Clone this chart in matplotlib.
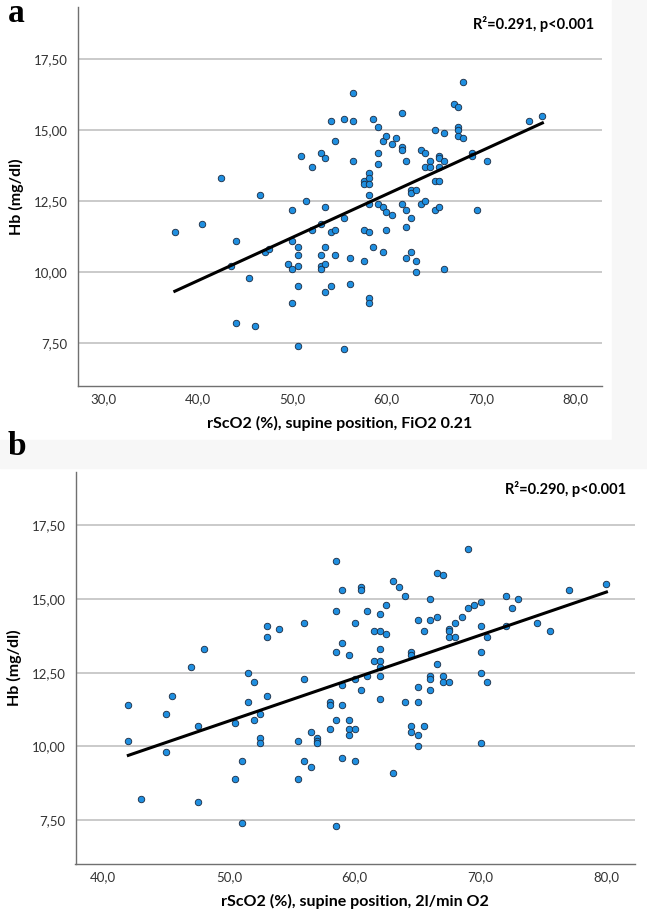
import numpy as np
import matplotlib.pyplot as plt
from matplotlib.patches import Rectangle
from matplotlib.ticker import FuncFormatter

# Panel a: rScO2 at FiO2 0.21 vs Hb
rsco2_a = [37.6, 40.5, 42.5, 44.1, 43.5, 44.1, 45.5, 46.1, 46.6, 47.1, 47.6, 49.6,
           50.0, 50.0, 50.0, 50.6, 50.6, 50.6, 50.6, 50.0, 50.6, 51.0, 51.5, 52.1,
           52.1, 53.1, 53.1, 53.1, 53.1, 53.1, 53.5, 53.5, 53.5, 53.5, 53.5, 54.1,
           54.1, 54.1, 54.5, 54.5, 54.5, 55.5, 55.5, 55.5, 56.1, 56.1, 56.5, 56.5,
           56.5, 57.6, 57.6, 57.6, 57.6, 58.1, 58.1, 58.1, 58.1, 58.1, 58.1, 58.1,
           58.1, 58.6, 58.6, 59.1, 59.1, 59.1, 59.1, 59.6, 59.6, 59.6, 60.0, 60.0,
           60.0, 60.6, 60.6, 61.0, 61.6, 61.6, 61.6, 61.6, 62.1, 62.1, 62.1, 62.1,
           62.6, 62.6, 62.6, 62.6, 63.1, 63.1, 63.1, 63.6, 63.6, 64.1, 64.1, 64.1,
           64.6, 64.6, 65.1, 65.1, 65.1, 65.6, 65.6, 65.6, 65.6, 65.6, 66.1, 66.1,
           66.1, 67.1, 67.6, 67.6, 67.6, 67.6, 68.1, 68.1, 69.0, 69.0, 69.6, 70.6,
           75.1, 76.5]
hb_a = [11.4, 11.7, 13.3, 11.1, 10.2, 8.2, 9.8, 8.1, 12.7, 10.7, 10.8, 10.3,
        12.2, 11.1, 10.1, 10.9, 10.6, 10.2, 9.5, 8.9, 7.4, 14.1, 12.5, 13.7,
        11.5, 14.2, 11.7, 10.6, 10.2, 10.1, 14.0, 12.3, 10.9, 10.3, 9.3, 15.3,
        11.4, 9.5, 14.6, 11.5, 10.6, 15.4, 11.9, 7.3, 10.5, 9.6, 16.3, 15.3,
        13.9, 13.2, 13.1, 11.5, 10.4, 13.5, 13.3, 13.1, 12.7, 12.4, 11.4, 9.1,
        8.9, 15.4, 10.9, 15.1, 14.2, 13.8, 12.4, 14.6, 12.3, 10.7, 14.8, 12.1,
        11.5, 14.5, 12.0, 14.7, 15.6, 14.4, 14.3, 12.4, 13.9, 12.2, 11.6, 10.5,
        12.9, 12.8, 11.9, 10.7, 12.9, 10.4, 10.0, 14.3, 12.4, 14.2, 13.7, 12.5,
        13.9, 13.7, 15.0, 13.2, 12.2, 14.1, 14.0, 13.7, 13.2, 12.3, 14.9, 13.9,
        10.1, 15.9, 15.8, 15.1, 15.0, 14.8, 16.7, 14.7, 14.2, 14.1, 12.2, 13.9,
        15.3, 15.5]

# Panel b: rScO2 at 2 l/min O2 vs Hb
rsco2_b = [42.0, 42.0, 43.0, 45.0, 45.0, 45.5, 47.0, 47.5, 47.5, 48.0, 50.5, 50.5,
           51.0, 51.0, 51.5, 51.5, 52.0, 52.0, 52.5, 52.5, 52.5, 53.0, 53.0, 53.0,
           54.0, 55.5, 55.5, 56.0, 56.0, 56.0, 56.5, 56.5, 57.0, 57.0, 57.0, 58.0,
           58.0, 58.0, 58.5, 58.5, 58.5, 58.5, 58.5, 59.0, 59.0, 59.0, 59.0, 59.0,
           59.5, 59.5, 59.5, 59.5, 60.0, 60.0, 60.0, 60.0, 60.5, 60.5, 60.5, 61.0,
           61.0, 61.5, 61.5, 62.0, 62.0, 62.0, 62.0, 62.0, 62.0, 62.0, 62.5, 62.5,
           63.0, 63.0, 63.5, 64.0, 64.0, 64.5, 64.5, 64.5, 64.5, 65.0, 65.0, 65.0,
           65.0, 65.0, 65.5, 65.5, 66.0, 66.0, 66.0, 66.0, 66.0, 66.5, 66.5, 66.5,
           67.0, 67.0, 67.0, 67.5, 67.5, 67.5, 67.5, 68.0, 68.0, 68.5, 69.0, 69.0,
           69.5, 70.0, 70.0, 70.0, 70.0, 70.0, 70.5, 70.5, 72.0, 72.0, 72.5, 73.0,
           74.5, 75.5, 77.0, 80.0]
hb_b = [11.4, 10.2, 8.2, 11.1, 9.8, 11.7, 12.7, 10.7, 8.1, 13.3, 10.8, 8.9,
        9.5, 7.4, 12.5, 11.5, 12.2, 10.9, 11.1, 10.3, 10.1, 14.1, 13.7, 11.7,
        14.0, 10.2, 8.9, 14.2, 12.3, 9.5, 10.5, 9.3, 10.3, 10.2, 10.1, 11.5,
        11.4, 10.6, 16.3, 14.6, 13.2, 10.9, 7.3, 15.3, 13.5, 12.1, 11.4, 9.6,
        13.1, 10.9, 10.6, 10.4, 14.2, 12.3, 10.6, 9.5, 15.4, 15.3, 11.9, 14.6,
        12.4, 13.9, 12.9, 14.5, 13.9, 13.3, 12.9, 12.7, 12.4, 11.6, 14.8, 13.8,
        15.6, 9.1, 15.4, 15.1, 11.5, 13.2, 13.1, 10.7, 10.5, 14.3, 12.0, 11.5,
        10.4, 10.0, 13.9, 10.7, 15.0, 14.3, 12.4, 12.3, 11.9, 15.9, 14.4, 12.8,
        15.8, 12.4, 12.2, 14.0, 13.9, 13.7, 12.2, 14.2, 13.7, 14.4, 16.7, 14.7,
        14.8, 14.9, 14.1, 13.2, 12.5, 10.1, 13.7, 12.2, 15.1, 14.1, 14.7, 15.0,
        14.2, 13.9, 15.3, 15.5]

hb_ticks = [7.5, 10.0, 12.5, 15.0, 17.5]
xticks_a = [30, 40, 50, 60, 70, 80]
xticks_b = [40, 50, 60, 70, 80]

plt.rcParams['font.family'] = ['Lato', 'DejaVu Sans']

W, H = 647, 913
fig = plt.figure(figsize=(W / 100, H / 100), dpi=100)

# faint grey margins of the pasted panels
fig.patches.append(Rectangle((612 / W, 1 - 440 / H), 35 / W, 440 / H,
                             transform=fig.transFigure, color='#f7f7f7', zorder=0))
fig.patches.append(Rectangle((0, 1 - 468 / H), 1, 28 / H,
                             transform=fig.transFigure, color='#f7f7f7', zorder=0))

ax_a = fig.add_axes([77.5 / W, 1 - 386 / H, 524.8 / W, 379 / H])
ax_b = fig.add_axes([75.5 / W, 1 - 864.3 / H, 559 / W, 392.6 / H])


def comma(v, nd):
    return f'{v:.{nd}f}'.replace('.', ',')


def draw(ax, x, y, xticks, xlim, xlabel, stat):
    ax.set_facecolor('none')
    ax.scatter(x, y, s=22, facecolor='#1f8fe0', edgecolor='#1b2a40',
               linewidth=0.6, zorder=3)
    slope, icpt = np.polyfit(x, y, 1)
    xs = np.array([min(x), max(x)])
    ax.plot(xs, icpt + slope * xs, color='black', lw=2.2, zorder=4)
    ax.set_xlim(*xlim)
    ax.set_ylim(6.0, 19.32)
    ax.set_xticks(xticks)
    ax.set_yticks(hb_ticks)
    ax.xaxis.set_major_formatter(FuncFormatter(lambda v, p: comma(v, 1)))
    ax.yaxis.set_major_formatter(FuncFormatter(lambda v, p: comma(v, 2)))
    ax.grid(axis='y', color='#bcbcbc', lw=1.1)
    ax.set_axisbelow(True)
    for s in ['top', 'right']:
        ax.spines[s].set_visible(False)
    for s in ['left', 'bottom']:
        ax.spines[s].set_color('#707070')
        ax.spines[s].set_linewidth(1.0)
    ax.tick_params(length=0, labelsize=9.5, labelcolor='#333333')
    ax.tick_params(axis='x', pad=5)
    ax.tick_params(axis='y', pad=7)
    ax.set_xlabel(xlabel, fontsize=11.5, fontweight='bold', labelpad=8)
    ax.set_ylabel('Hb (mg/dl)', fontsize=11.5, fontweight='bold', labelpad=7)
    ax.text(0.985, 0.955, stat, transform=ax.transAxes, ha='right', va='center',
            fontsize=10.5, fontweight='bold')


draw(ax_a, rsco2_a, hb_a, xticks_a, (27.3, 82.84),
     'rScO2 (%), supine position, FiO2 0.21', 'R²=0.291, p<0.001')
draw(ax_b, rsco2_b, hb_b, xticks_b, (37.8, 82.23),
     'rScO2 (%), supine position, 2l/min O2', 'R²=0.290, p<0.001')

fig.text(8 / W, 1 - 22 / H, 'a', fontsize=24, fontweight='bold',
         family='Liberation Serif', ha='left', va='baseline')
fig.text(8 / W, 1 - 455 / H, 'b', fontsize=24, fontweight='bold',
         family='Liberation Serif', ha='left', va='baseline')

fig.savefig('out.png', dpi=100)
